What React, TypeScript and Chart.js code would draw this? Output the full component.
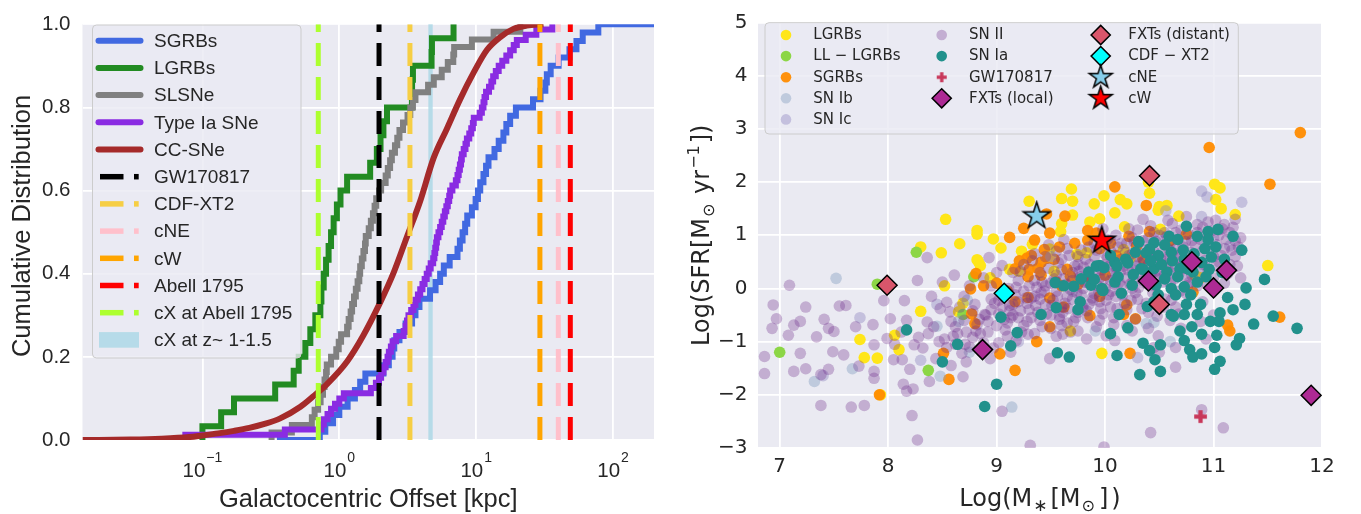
import React, { useEffect, useRef } from 'react';
import { Chart, registerables } from 'chart.js';

Chart.register(...registerables);

// ---------------- Left panel: cumulative offset distributions (kpc) ----------------
const sgrbOffsets = [0.72, 0.79, 0.9, 1.0, 1.15, 1.3, 1.42, 1.55, 2.1, 2.3, 2.45, 2.52, 2.75, 3.05, 3.4, 3.6, 3.85, 4.6, 5.05, 5.45, 5.8, 6.4, 7.3, 7.6, 7.95, 8.3, 8.6, 9.3, 9.9, 10.3, 10.7, 11.3, 11.8, 12.3, 13.6, 14.6, 15.8, 16.6, 17.7, 19.5, 26, 29.5, 32, 32.8, 35, 40, 48, 54, 60, 78];
const lgrbOffsets = [0.1, 0.137, 0.17, 0.34, 0.464, 0.505, 0.565, 0.614, 0.668, 0.727, 0.74, 0.769, 0.8, 0.835, 0.87, 0.909, 0.96, 1.02, 1.14, 1.68, 1.88, 2.0, 2.1, 2.23, 3.39, 3.4, 3.45, 4.72, 4.75, 6.83];
const slsnOffsets = [0.32, 0.45, 0.63, 0.66, 0.7, 0.73, 0.76, 0.78, 0.8, 0.81, 0.87, 0.95, 0.99, 1.03, 1.14, 1.17, 1.21, 1.24, 1.28, 1.32, 1.36, 1.4, 1.42, 1.46, 1.5, 1.54, 1.56, 1.64, 1.7, 1.76, 1.81, 1.86, 1.95, 2.02, 2.18, 2.26, 2.35, 2.42, 2.55, 2.65, 2.75, 2.92, 3.15, 3.3, 3.45, 3.6, 4.45, 4.9, 5.6, 6.2, 6.8, 6.9, 9.3, 13.4, 21.0];
const snIaOffsets = [0.075, 0.4, 0.74, 0.77, 0.82, 0.87, 0.93, 1.0, 1.08, 1.7, 1.85, 1.95, 2.02, 2.1, 2.18, 2.25, 2.3, 2.38, 2.45, 2.6, 2.95, 3.05, 3.12, 3.2, 3.35, 3.48, 3.6, 3.75, 3.9, 4.05, 4.2, 4.35, 4.5, 4.65, 4.85, 4.95, 5.02, 5.1, 5.16, 5.3, 5.45, 5.6, 5.75, 5.9, 6.05, 6.2, 6.35, 6.45, 6.7, 7.1, 7.3, 7.45, 7.6, 7.75, 7.85, 8.1, 8.35, 8.55, 8.9, 9.2, 9.45, 9.6, 10.6, 11.0, 11.3, 11.5, 11.8, 12.4, 12.9, 13.3, 13.9, 14.6, 15.5, 16.6, 17.7, 18.8, 19.8, 23.0, 27.5, 36.0];
// CC-SNe: large sample, traced as a smooth cumulative curve
const ccsnOffsets = [0.0133, 0.03, 0.05, 0.08, 0.1, 0.13, 0.17, 0.22, 0.28, 0.37, 0.52, 0.65, 0.81, 1.14, 1.5, 1.99, 2.49, 3.12, 3.9, 4.88, 6.11, 7.64, 9.55, 11.97, 15.0, 18.7, 23.4, 31.0];
const ccsnFractions = [0, 0.001, 0.003, 0.007, 0.011, 0.016, 0.022, 0.029, 0.038, 0.052, 0.08, 0.106, 0.134, 0.189, 0.252, 0.331, 0.402, 0.489, 0.575, 0.678, 0.749, 0.82, 0.883, 0.938, 0.969, 0.989, 0.997, 1.0];

const curveLabels = ['SGRBs', 'LGRBs', 'SLSNe', 'Type Ia SNe', 'CC-SNe'];
const curveColors = ['#4169E1', '#228B22', '#808080', '#8A2BE2', '#A52A2A'];
const curveStartOffsets = [0.35, 0.1, 0.32, 0.07];

const eventLabels = ['GW170817', 'CDF-XT2', 'cNE', 'cW', 'Abell 1795', 'cX at Abell 1795'];
const eventOffsets = [1.95, 3.28, 39.8, 29.2, 48.7, 0.702];
const eventColors = ['#000000', '#F6CE44', '#FFC0CB', '#FFA500', '#FF0000', '#ADFF2F'];
const bandLabel = 'cX at z~ 1-1.5';
const bandOffsets = [4.47, 4.81];
const bandColor = 'rgba(173,216,230,0.85)';

const OFFSET_MIN = 0.0133;
const OFFSET_MAX = 199;
const offsetTicks = [0.1, 1, 10, 100];
const offsetTickExponents = ['\u22121', '0', '1', '2'];
const cdfTicks = [0, 0.2, 0.4, 0.6, 0.8, 1.0];

// ---------------- Right panel: host stellar mass vs star formation rate ----------------
const lgrbHosts = [[9.30, 1.64], [9.69, 1.87], [9.60, 1.69], [9.70, 1.64], [9.90, 1.59], [9.99, 1.74], [10.14, 1.67], [10.20, 1.59], [10.09, 1.42], [9.70, 1.38], [9.60, 1.22], [9.59, 1.07], [9.95, 1.31], [9.86, 1.25], [10.18, 1.16], [8.82, 1.09], [8.66, 0.84], [8.97, 0.93], [9.04, 0.76], [9.23, 0.70], [9.33, 0.83], [9.49, 0.74], [8.83, 0.51], [8.94, 0.20], [9.12, 0.36], [9.20, 0.33], [9.74, 0.64], [9.83, 0.67], [10.17, 0.73], [10.23, 0.57], [10.41, 1.79], [10.40, 2.00], [8.53, 1.30], [8.82, 1.02], [8.30, 0.78], [8.49, 0.67], [8.82, 0.54], [8.85, 0.43], [8.52, 0.05], [10.49, 1.47], [10.57, 1.56], [10.50, 1.54], [10.68, 1.36], [11.01, 1.96], [11.06, 1.89], [11.02, 1.67], [11.07, 1.50], [11.20, 1.39], [11.50, 0.43], [10.51, 1.11], [9.53, 0.32], [9.68, -0.80], [8.69, -0.28], [8.65, -0.44], [8.30, -0.43], [7.74, -0.96], [7.78, -1.30], [7.90, -1.31], [8.06, -0.88], [8.10, -1.15], [7.93, -2.00], [9.97, -1.22], [10.88, 0.20], [10.83, 0.24]];
const llgrbHosts = [[8.26, 0.68], [7.90, 0.08], [7.00, -1.20], [8.37, -1.54], [8.79, 0.22], [8.69, -0.49]];
const sgrbHosts = [[10.96, 2.65], [11.80, 2.93], [11.52, 1.96], [10.09, 1.91], [10.38, 1.56], [9.46, 1.40], [9.63, 1.36], [9.49, 1.04], [9.25, 1.13], [9.12, 0.96], [9.35, 0.91], [9.44, 0.73], [9.32, 0.62], [9.21, 0.52], [9.41, 0.49], [9.53, 0.55], [9.84, 1.09], [9.84, 0.91], [9.92, 1.04], [10.22, 0.98], [10.41, 1.07], [10.29, 0.80], [10.75, 1.02], [8.81, 0.28], [8.88, 0.05], [8.76, -0.01], [9.17, 0.37], [9.29, 0.22], [9.41, 0.25], [9.65, 0.36], [9.68, 0.23], [9.85, 0.22], [9.29, -0.17], [9.17, -0.25], [9.49, -0.18], [9.86, -0.51], [10.28, -0.57], [10.17, -0.49], [9.49, -0.72], [9.37, -1.00], [9.03, -1.23], [9.17, -1.54], [10.23, -1.22], [8.77, -0.48], [8.80, -0.66], [8.51, -1.22], [8.56, -1.71], [7.92, -2.00], [10.81, -0.07], [11.13, -0.69], [11.15, -0.80], [11.61, -0.54], [10.20, -0.31], [9.28, 0.57], [9.47, 0.57], [9.30, 0.36], [10.05, 0.85], [10.60, 0.90], [10.00, 0.25], [9.60, 0.05], [9.58, 0.78], [9.72, 0.85], [9.95, 0.75], [10.10, 0.62], [9.38, 0.38], [9.55, 0.12], [9.75, 0.08], [10.35, 0.55], [9.00, 0.10], [9.10, -0.05], [9.62, -0.35], [9.95, -0.15]];
const snIbHosts = [[7.52, 0.19], [7.67, -1.51], [7.32, -1.75], [8.73, -0.22], [8.65, -0.62], [9.91, -0.80], [10.38, -0.66], [10.45, -0.64], [9.14, -2.23], [8.75, -1.20], [8.45, -0.71], [10.93, 0.89], [10.60, -1.00], [8.48, -1.65], [9.50, 0.60], [10.70, 0.50], [9.70, -0.05]];
const snIcHosts = [[10.89, 1.83], [10.94, 1.72], [11.26, 1.62], [10.56, 1.46], [10.89, 1.35], [8.30, -1.35], [7.40, -1.64], [8.45, -0.30], [9.20, -1.00], [10.60, 0.30], [11.00, 0.95], [9.80, -0.35], [11.15, 0.80], [7.74, -0.55], [10.30, -1.30]];
const snIIHosts = [
  [7.09, 0.06], [6.94, -0.31], [6.97, -0.57], [6.93, -0.75], [6.86, -1.28], [6.86, -1.60], [7.13, -0.69], [7.19, -0.62], [7.24, -0.35], [7.08, -0.88], [7.19, -1.22], [7.13, -1.56], [7.24, -1.51], [7.34, -0.91], [7.41, -0.58], [7.45, -0.75], [7.50, -0.81], [7.49, -1.19], [7.59, -1.25], [7.45, -1.52], [7.38, -2.20], [7.66, -2.23], [7.78, -2.20], [7.55, -0.33], [7.61, -0.32], [7.70, -0.72], [7.86, -0.68], [7.87, -1.06], [7.73, -1.46], [7.87, -1.56], [7.87, -1.69], [7.96, -0.23], [8.02, -0.57], [7.99, -0.94], [8.05, -1.34], [8.13, -1.34], [8.15, -0.23], [8.17, -0.60], [8.14, -1.80], [8.17, -1.93], [8.22, -2.39], [8.27, -2.85], [8.24, -1.06], [8.23, -1.89], [8.36, -0.63], [8.37, -0.85], [8.47, -1.00], [8.54, -0.26], [8.57, -0.44], [8.64, -0.85], [8.54, -1.11], [8.27, 0.15], [8.36, 0.58], [8.61, 0.25], [8.69, -1.66], [8.71, -1.05], [8.81, -0.80], [8.89, -0.49], [8.93, 0.58], [8.94, -1.32], [9.05, -2.31], [9.31, -2.95], [9.99, -2.98], [10.42, -2.71], [11.09, -2.62], [10.89, -2.28], [9.05, 0.43], [9.11, 0.00], [9.13, -0.55], [9.13, -1.20], [9.29, -0.86], [9.49, -1.32], [9.61, -0.86], [9.83, -0.95], [10.01, -0.89], [10.09, -0.98], [10.25, -0.80], [10.49, -0.89], [10.45, -1.11], [10.65, -1.11], [10.65, -1.48], [10.93, -0.95], [7.38, -1.62], [8.38, -1.75],
  [8.80, -0.30], [8.90, -0.50], [8.95, -0.20], [9.00, -0.70], [9.05, -0.35], [9.10, -0.90], [9.10, -0.10], [9.15, -0.50], [9.20, -0.25], [9.20, 0.15], [9.25, -0.70], [9.30, -0.40], [9.30, 0.05], [9.35, -0.15], [9.40, 0.30], [9.40, -0.60], [9.45, -0.30], [9.50, 0.10], [9.50, -0.50], [9.55, -0.05], [9.60, 0.35], [9.60, -0.35], [9.65, -0.65], [9.70, 0.15], [9.70, -0.20], [9.75, 0.45], [9.75, -0.45], [9.80, 0.00], [9.85, 0.30], [9.85, -0.30], [9.90, 0.60], [9.90, -0.10], [9.95, 0.20], [9.95, -0.60], [10.00, 0.45], [10.00, 0.00], [10.05, -0.35], [10.05, 0.70], [10.10, 0.25], [10.10, -0.15], [10.15, 0.55], [10.15, 0.05], [10.20, 0.85], [10.20, -0.40], [10.25, 0.35], [10.25, 0.00], [10.30, 0.60], [10.30, -0.20], [10.35, 0.15], [10.35, 0.90], [10.40, 0.45], [10.40, -0.45], [10.45, 0.70], [10.45, 0.05], [10.50, 1.00], [10.50, 0.30], [10.55, -0.20], [10.55, 0.55], [10.60, 0.85], [10.60, 0.10], [10.65, 0.40], [10.65, -0.35], [10.70, 1.10], [10.70, 0.65], [10.75, 0.20], [10.75, -0.10], [10.80, 0.90], [10.80, 0.45], [10.85, 1.05], [10.85, 0.05], [10.90, 0.70], [10.90, -0.25], [10.95, 0.95], [10.95, 0.35], [11.00, 0.60], [11.00, -0.50], [11.05, 1.00], [11.10, 0.75], [11.10, 0.10], [11.15, 0.45], [11.20, 0.90], [11.25, 0.20], [9.00, 0.30], [9.25, 0.45], [9.45, 0.60], [9.65, 0.75], [9.90, 0.85], [10.10, 1.00], [10.30, 1.10], [8.60, -0.90], [8.70, -0.60], [8.75, -1.10], [8.85, -0.85], [9.35, -0.85], [9.55, -0.90], [9.75, -0.80], [10.20, -0.70], [10.40, -0.75], [10.60, -0.60], [10.50, -1.20], [10.70, -0.75], [9.60, -0.70], [9.50, -0.75],
  [9.45, 0.05], [9.55, 0.25], [9.65, -0.15], [9.80, 0.40], [9.85, 0.10], [9.95, -0.25], [10.05, 0.15], [10.10, 0.40], [10.20, 0.20], [10.25, 0.65], [10.35, 0.35], [10.40, 0.20], [10.45, 0.50], [10.55, 0.25], [10.60, 0.55], [10.65, 0.75], [10.75, 0.50], [10.80, 0.25], [10.90, 0.45], [11.00, 0.20], [9.15, -0.30], [9.25, -0.05], [9.35, 0.15], [9.05, -0.15], [8.95, -0.40], [9.40, -0.20], [9.20, -0.55], [9.10, -0.65], [9.60, 0.55], [9.70, 0.30], [10.00, 0.65], [10.15, 0.85], [10.40, 0.95], [10.55, 1.05], [10.90, 1.15], [11.15, 1.05], [11.05, 0.50], [11.20, 0.60], [11.25, 0.95], [10.95, 1.25], [10.75, 1.35], [11.10, 1.20],
  [9.22, 0.32], [9.28, -0.28], [9.33, 0.52], [9.38, -0.45], [9.42, 0.12], [9.44, -0.05], [9.48, 0.38], [9.52, -0.22], [9.57, 0.48], [9.58, -0.52], [9.62, 0.18], [9.63, -0.28], [9.67, 0.62], [9.68, -0.02], [9.72, 0.42], [9.73, -0.55], [9.77, 0.22], [9.78, -0.12], [9.82, 0.55], [9.83, -0.42], [9.87, 0.18], [9.88, -0.18], [9.92, 0.72], [9.93, 0.05], [9.97, 0.35], [9.98, -0.48], [10.02, 0.58], [10.03, -0.12], [10.07, 0.28], [10.08, -0.55], [10.12, 0.78], [10.13, 0.12], [10.17, 0.42], [10.18, -0.28], [10.22, 0.62], [10.23, 0.08], [10.27, 0.88], [10.28, -0.08], [10.32, 0.48], [10.33, 0.25], [10.37, 0.72], [10.38, -0.28], [10.42, 0.58], [10.43, 0.32], [10.47, 0.88], [10.48, -0.15], [10.52, 0.68], [10.53, 0.12], [10.57, 0.98], [10.58, 0.38], [10.62, 0.68], [10.63, -0.08], [10.67, 0.92], [10.68, 0.28], [10.72, 0.78], [10.73, 0.38], [10.77, 1.02], [10.78, 0.12], [10.82, 0.62], [10.83, 0.82], [10.87, 0.32], [10.88, 0.92], [10.92, 0.52], [10.93, 0.12], [10.97, 0.78], [10.98, 1.08], [11.02, 0.42], [11.03, 0.82], [11.07, 0.62], [11.08, 1.12], [11.12, 0.92], [11.13, 0.28], [11.17, 0.72], [11.18, 1.15], [11.22, 0.42], [11.23, 0.78], [8.92, -0.62], [8.98, -0.28], [9.02, -0.48], [9.08, -0.78], [9.12, -0.32], [9.18, 0.02], [9.22, -0.42], [9.28, -0.62], [9.32, -0.18], [9.37, 0.02], [8.72, -0.82], [8.78, -0.42], [8.82, -0.68], [8.88, -1.02], [8.62, -0.72], [8.68, -1.22], [9.02, -1.02], [9.18, -0.98], [9.42, -0.72], [9.58, -0.58], [9.68, -0.82], [9.92, -0.72], [10.08, -0.68], [10.28, -0.58], [10.48, -0.52], [10.68, -0.48], [10.88, -0.62], [9.48, 0.82], [9.62, 0.92], [9.78, 0.72], [10.02, 0.92], [10.22, 1.12], [10.42, 1.18], [10.62, 1.22], [9.98, 1.12], [10.58, 1.28], [11.02, 1.28],
  [9.02, -0.22], [9.07, -0.58], [9.12, -0.42], [9.17, -0.12], [9.23, -0.82], [9.27, -0.18], [9.32, -0.55], [9.36, -0.32], [9.41, -0.08], [9.46, -0.48], [9.51, -0.32], [9.53, 0.18], [9.56, -0.15], [9.61, -0.45], [9.64, 0.08], [9.66, -0.38], [9.71, -0.62], [9.74, -0.08], [9.76, 0.32], [9.79, -0.35], [9.81, 0.12], [9.84, -0.55], [9.86, 0.45], [9.89, -0.22], [9.91, 0.32], [9.94, -0.05], [9.96, -0.38], [9.99, 0.18], [10.01, -0.22], [10.04, 0.42], [10.06, -0.05], [10.09, 0.08], [10.11, -0.38], [10.14, 0.32], [10.16, -0.12], [10.19, 0.68], [10.21, 0.35], [10.24, -0.22], [10.26, 0.15], [10.29, 0.42], [10.31, 0.02], [10.34, -0.38], [10.36, 0.52], [10.39, 0.08], [10.41, 0.68], [10.44, -0.08], [10.46, 0.32], [10.49, 0.18], [10.51, 0.55], [10.54, -0.35], [10.56, 0.42], [10.59, 0.72], [10.61, -0.22], [10.64, 0.18], [10.66, 0.55], [10.69, -0.05], [10.71, 0.42], [10.74, 0.88], [10.76, 0.05], [10.79, 0.68],
  [8.42, -0.72], [8.48, -0.38], [8.52, -0.95], [8.58, -0.62], [8.62, -1.05], [8.66, -0.35], [8.72, -1.38], [8.78, -0.92], [8.84, -0.58], [8.86, -1.18], [8.92, -0.82], [8.97, -1.12], [8.32, -1.12], [8.44, -1.32], [8.58, -1.45], [8.28, -0.92], [8.12, -0.82], [8.06, -1.05], [8.20, -1.52], [8.40, -0.15], [8.70, -0.15], [8.50, 0.12], [8.75, 0.05], [8.95, 0.05], [9.15, 0.30], [8.88, 0.20],
  [9.35, 0.65], [9.55, 0.70], [9.75, 0.60], [9.85, 0.78], [10.05, 0.90], [10.25, 0.95], [10.45, 1.05], [10.65, 1.05], [10.85, 1.20], [11.05, 1.10], [11.20, 1.30], [10.35, 1.30]
];
const snIaHosts = [[10.75, 1.17], [10.95, 1.07], [11.04, 1.11], [11.26, 0.72], [10.31, 0.87], [10.45, 0.86], [10.59, 0.98], [10.67, 0.92], [10.41, 0.74], [10.49, 0.62], [10.61, 0.68], [10.73, 0.55], [10.89, 0.49], [10.98, 0.59], [10.19, 0.55], [10.09, 0.49], [9.95, 0.43], [9.85, 0.31], [10.33, 0.37], [10.45, 0.37], [10.57, 0.31], [10.69, 0.37], [10.81, 0.31], [10.96, 0.36], [11.08, 0.30], [11.47, 0.17], [9.54, 0.11], [9.71, 0.04], [9.87, 0.06], [9.97, 0.00], [10.09, 0.12], [10.25, 0.06], [10.47, 0.06], [10.61, 0.00], [10.73, 0.03], [10.85, 0.12], [10.49, -0.12], [10.65, -0.12], [10.79, -0.12], [11.30, 0.01], [11.13, -0.17], [11.29, -0.30], [10.88, -0.30], [10.39, -0.34], [9.41, -0.49], [9.55, -0.36], [9.77, -0.25], [9.75, -0.40], [10.13, -0.49], [9.04, -0.54], [9.19, -0.83], [8.64, -1.05], [8.50, -1.38], [8.17, -0.78], [9.13, -1.08], [10.05, -0.85], [10.21, -0.74], [10.61, -0.49], [10.73, -0.49], [10.85, -0.49], [11.06, -0.46], [11.05, -0.62], [10.63, -0.52], [10.80, -0.72], [10.89, -0.86], [11.03, -0.88], [11.24, -0.94], [11.21, -1.06], [11.37, -0.67], [11.55, -0.52], [11.77, -0.75], [10.35, -1.03], [10.41, -1.17], [10.51, -1.06], [10.46, -1.34], [10.51, -1.56], [10.32, -1.62], [10.11, -1.26], [10.73, -0.98], [10.78, -1.15], [10.81, -1.29], [10.89, -1.23], [11.01, -1.11], [11.06, -1.37], [11.01, -1.52], [9.56, -1.21], [9.67, -1.29], [9.00, -1.80], [8.89, -2.22], [9.92, 0.42], [9.99, 0.39], [10.11, 0.42], [10.21, 0.48], [10.26, 0.26], [10.35, 0.36], [9.90, 0.17], [9.98, -0.04], [10.15, -0.09], [10.38, 0.67], [10.31, 0.88], [10.69, -0.80], [10.97, -0.62], [10.42, 0.52], [10.52, 0.45], [10.62, 0.52], [10.72, 0.72], [10.82, 0.65], [10.92, 0.75], [11.02, 0.78], [10.38, 0.16], [10.55, 0.18], [10.67, 0.22], [10.77, 0.36], [10.93, 0.22], [11.10, 0.55], [11.18, 0.98], [10.55, 0.82], [10.85, 0.98], [10.95, 0.92], [10.28, 0.68], [10.12, 0.22], [10.05, 0.62], [9.78, 0.18], [9.62, 0.05], [10.45, -0.25], [10.75, -0.30], [11.18, -0.40]];
const gwHost = [[10.88, -2.41]];
const fxtLocalHosts = [[8.87, -1.15], [10.40, 0.14], [10.80, 0.50], [11.00, 0.01], [11.12, 0.34], [11.90, -2.01]];
const fxtDistantHosts = [[7.99, 0.06], [10.41, 2.12], [10.50, -0.30]];
const cdfxt2Host = [[9.07, -0.09]];
const cneHost = [[9.37, 1.36]];
const cwHost = [[9.97, 0.90]];

const massTicks = [7, 8, 9, 10, 11, 12];
const sfrTicks = [-3, -2, -1, 0, 1, 2, 3, 4, 5];

const hostSeries = [
  { label: 'LGRBs', points: lgrbHosts, color: '#FFE619', marker: 'circle' },
  { label: 'LL \u2212 LGRBs', points: llgrbHosts, color: '#8CD646', marker: 'circle' },
  { label: 'SGRBs', points: sgrbHosts, color: 'rgba(255,140,0,0.95)', marker: 'circle' },
  { label: 'SN Ib', points: snIbHosts, color: 'rgba(140,165,195,0.45)', marker: 'circle' },
  { label: 'SN Ic', points: snIcHosts, color: 'rgba(140,130,190,0.4)', marker: 'circle' },
  { label: 'SN II', points: snIIHosts, color: 'rgba(112,48,140,0.32)', marker: 'circle' },
  { label: 'SN Ia', points: snIaHosts, color: '#21918C', marker: 'circle' },
  { label: 'GW170817', points: gwHost, color: '#C8375A', marker: 'plus' },
  { label: 'FXTs (local)', points: fxtLocalHosts, color: '#AD2A94', marker: 'diamond' },
  { label: 'FXTs (distant)', points: fxtDistantHosts, color: '#D9566B', marker: 'diamond' },
  { label: 'CDF \u2212 XT2', points: cdfxt2Host, color: '#00FFFF', marker: 'diamond' },
  { label: 'cNE', points: cneHost, color: '#87CEEB', marker: 'star' },
  { label: 'cW', points: cwHost, color: '#FF0000', marker: 'star' },
];

// ---------------- drawing helpers ----------------
const FONT_L = 'Liberation Sans';
const FONT_R = 'DejaVu Sans';
const TEXT = '#262626';
const PANEL_BG = '#EAEAF2';

function roundRectPath(ctx, x, y, w, h, r) {
  ctx.beginPath();
  ctx.moveTo(x + r, y);
  ctx.lineTo(x + w - r, y);
  ctx.arcTo(x + w, y, x + w, y + r, r);
  ctx.lineTo(x + w, y + h - r);
  ctx.arcTo(x + w, y + h, x + w - r, y + h, r);
  ctx.lineTo(x + r, y + h);
  ctx.arcTo(x, y + h, x, y + h - r, r);
  ctx.lineTo(x, y + r);
  ctx.arcTo(x, y, x + r, y, r);
  ctx.closePath();
}

// text made of pieces (sub/superscripts), centred on `center`, sitting on `baseline`
function drawRich(ctx, segs, family, center, baseline, vertical) {
  ctx.save();
  ctx.fillStyle = TEXT;
  ctx.textAlign = 'left';
  ctx.textBaseline = 'alphabetic';
  const fontOf = (s) => `${s.size}px "${family}"`;
  const widths = segs.map((s) => { ctx.font = fontOf(s); return ctx.measureText(s.t).width; });
  const total = widths.reduce((a, w, i) => a + w + (segs[i].gap || 0), 0);
  if (vertical) { ctx.translate(baseline, center); ctx.rotate(-Math.PI / 2); }
  else ctx.translate(center, baseline);
  let x = -total / 2;
  segs.forEach((s, i) => {
    ctx.font = fontOf(s);
    ctx.fillText(s.t, x, s.dy || 0);
    x += widths[i] + (s.gap || 0);
  });
  ctx.restore();
}

function starImage(outer, fill) {
  const lw = 1.5;
  const size = Math.ceil(2 * outer + 2 * lw + 2);
  const c = document.createElement('canvas');
  c.width = size; c.height = size;
  const g = c.getContext('2d');
  const inner = outer * 0.381966;
  g.beginPath();
  for (let k = 0; k < 10; k++) {
    const r = k % 2 === 0 ? outer : inner;
    const a = -Math.PI / 2 + (k * Math.PI) / 5;
    const px = size / 2 + r * Math.cos(a);
    const py = size / 2 + r * Math.sin(a);
    if (k === 0) g.moveTo(px, py); else g.lineTo(px, py);
  }
  g.closePath();
  g.fillStyle = fill; g.fill();
  g.lineWidth = lw; g.strokeStyle = '#000'; g.lineJoin = 'miter'; g.stroke();
  return c;
}

function plusImage(span, fill) {
  const size = Math.ceil(span) + 2;
  const c = document.createElement('canvas');
  c.width = size; c.height = size;
  const g = c.getContext('2d');
  const t = span / 3;
  const m = size / 2;
  g.fillStyle = fill;
  g.fillRect(m - span / 2, m - t / 2, span, t);
  g.fillRect(m - t / 2, m - span / 2, t, span);
  return c;
}

function diamondPath(ctx, x, y, r) {
  ctx.beginPath();
  ctx.moveTo(x - r, y); ctx.lineTo(x, y - r); ctx.lineTo(x + r, y); ctx.lineTo(x, y + r);
  ctx.closePath();
}

// ---------------- left chart ----------------
function ecdfPoints(values, start) {
  const n = values.length;
  const pts = [{ x: start, y: 0 }];
  values.forEach((v, i) => pts.push({ x: v, y: (i + 1) / n }));
  return pts;
}

const leftDecor = {
  id: 'leftDecor',
  beforeDraw(chart) {
    const { ctx, chartArea: a } = chart;
    ctx.save();
    ctx.fillStyle = PANEL_BG;
    ctx.fillRect(a.left, a.top, a.right - a.left, a.bottom - a.top);
    ctx.restore();
  },
  beforeDatasetsDraw(chart) {
    const { ctx, chartArea: a } = chart;
    const xs = chart.scales.x;
    const x1 = xs.getPixelForValue(bandOffsets[0]);
    const x2 = xs.getPixelForValue(bandOffsets[1]);
    ctx.save();
    ctx.fillStyle = bandColor;
    ctx.fillRect(x1, a.top, x2 - x1, a.bottom - a.top);
    ctx.restore();
  },
  afterDraw(chart) {
    const { ctx, chartArea: a } = chart;
    const xs = chart.scales.x;
    ctx.save();
    ctx.fillStyle = TEXT;
    ctx.textBaseline = 'alphabetic';
    ctx.textAlign = 'left';
    offsetTicks.forEach((v, i) => {
      const px = xs.getPixelForValue(v);
      const big = `20.5px "${FONT_L}"`;
      const small = `14px "${FONT_L}"`;
      ctx.font = big; const w1 = ctx.measureText('10').width;
      ctx.font = small; const w2 = ctx.measureText(offsetTickExponents[i]).width;
      const x0 = px - (w1 + w2 + 1) / 2;
      ctx.font = big; ctx.fillText('10', x0, 477);
      ctx.font = small; ctx.fillText(offsetTickExponents[i], x0 + w1 + 1, 462);
    });
    ctx.restore();

    drawRich(ctx, [{ t: 'Galactocentric Offset [kpc]', size: 25.5 }], FONT_L, (a.left + a.right) / 2, 507, false);
    drawRich(ctx, [{ t: 'Cumulative Distribution', size: 25.5 }], FONT_L, 226, 29.5, true);

    // legend
    ctx.save();
    roundRectPath(ctx, 92.5, 25, 208.5, 333, 4);
    ctx.fillStyle = 'rgba(234,234,242,0.8)';
    ctx.fill();
    ctx.lineWidth = 1;
    ctx.strokeStyle = '#CCCCCC';
    ctx.stroke();
    const rowY = (i) => 40.7 + i * 27.2;
    ctx.font = `19px "${FONT_L}"`;
    ctx.textBaseline = 'middle';
    ctx.textAlign = 'left';
    curveLabels.forEach((lab, i) => {
      const y = rowY(i);
      ctx.beginPath();
      ctx.moveTo(98.5, y); ctx.lineTo(140.5, y);
      ctx.lineWidth = 6; ctx.lineCap = 'round'; ctx.strokeStyle = curveColors[i];
      ctx.stroke();
      ctx.fillStyle = TEXT;
      ctx.fillText(lab, 154, y + 1);
    });
    eventLabels.forEach((lab, j) => {
      const y = rowY(5 + j);
      ctx.lineCap = 'butt'; ctx.lineWidth = 5.5; ctx.strokeStyle = eventColors[j];
      ctx.beginPath(); ctx.moveTo(100, y); ctx.lineTo(123.5, y); ctx.stroke();
      ctx.beginPath(); ctx.moveTo(134, y); ctx.lineTo(138.7, y); ctx.stroke();
      ctx.fillStyle = TEXT;
      ctx.fillText(lab, 154, y + 1);
    });
    const yb = rowY(11);
    ctx.fillStyle = bandColor;
    ctx.fillRect(99, yb - 7.8, 40, 15.6);
    ctx.fillStyle = TEXT;
    ctx.fillText(bandLabel, 154, yb + 1);
    ctx.restore();
  },
};

function leftConfig() {
  const curveData = [
    [...ecdfPoints(sgrbOffsets, curveStartOffsets[0]), { x: OFFSET_MAX, y: 1 }],
    ecdfPoints(lgrbOffsets, curveStartOffsets[1]),
    ecdfPoints(slsnOffsets, curveStartOffsets[2]),
    ecdfPoints(snIaOffsets, curveStartOffsets[3]),
  ];
  const datasets = [];
  curveData.forEach((data, i) => {
    datasets.push({
      label: curveLabels[i], data, borderColor: curveColors[i], borderWidth: 6,
      pointRadius: 0, stepped: true, fill: false, order: 40 - i,
    });
  });
  datasets.push({
    label: curveLabels[4],
    data: ccsnOffsets.map((x, i) => ({ x, y: ccsnFractions[i] })),
    borderColor: curveColors[4], borderWidth: 6, pointRadius: 0, fill: false,
    cubicInterpolationMode: 'monotone', order: 30,
  });
  eventOffsets.forEach((x, j) => {
    datasets.push({
      label: eventLabels[j], data: [{ x, y: 0 }, { x, y: 1 }], borderColor: eventColors[j],
      borderWidth: 5, borderDash: [23, 11], borderCapStyle: 'butt', pointRadius: 0, fill: false, order: 10 - j,
    });
  });
  const grid = { color: '#FFFFFF', lineWidth: 1.8, drawTicks: false };
  return {
    type: 'line',
    data: { datasets },
    options: {
      responsive: false, animation: false, devicePixelRatio: 1, events: [],
      layout: { padding: { top: 17, right: 26, left: 0, bottom: 0 } },
      plugins: { legend: { display: false }, tooltip: { enabled: false } },
      scales: {
        x: {
          type: 'logarithmic', min: OFFSET_MIN, max: OFFSET_MAX,
          afterBuildTicks: (s) => { s.ticks = offsetTicks.map((value) => ({ value })); },
          afterFit: (s) => { s.height = 74; },
          ticks: { display: false }, grid, border: { display: false },
        },
        y: {
          type: 'linear', min: 0, max: 1,
          afterBuildTicks: (s) => { s.ticks = cdfTicks.map((value) => ({ value })); },
          afterFit: (s) => { s.width = 82.5; },
          ticks: { font: { family: FONT_L, size: 20.5 }, color: TEXT, padding: 12, callback: (v) => Number(v).toFixed(1) },
          grid, border: { display: false },
        },
      },
    },
    plugins: [leftDecor],
  };
}

// ---------------- right chart ----------------
function rightConfig() {
  const plotStar = {};
  const legendStar = {};
  hostSeries.forEach((s) => {
    if (s.marker === 'star') {
      plotStar[s.label] = starImage(14, s.color);
      legendStar[s.label] = starImage(12, s.color);
    }
  });
  const plotPlus = plusImage(12.7, '#C8375A');
  const legendPlus = plusImage(10, '#C8375A');

  const datasets = hostSeries.map((s, i) => {
    let pointStyle = 'circle';
    let radius = 5.8;
    if (s.marker === 'diamond') { pointStyle = 'rectRot'; radius = 10; }
    if (s.marker === 'star') { pointStyle = plotStar[s.label]; radius = 14; }
    if (s.marker === 'plus') { pointStyle = plotPlus; radius = 6; }
    return {
      label: s.label,
      data: s.points.map(([x, y]) => ({ x, y })),
      order: hostSeries.length - i,
      pointStyle, pointRadius: radius, pointHoverRadius: radius,
      backgroundColor: s.color,
      borderColor: s.marker === 'diamond' ? '#000000' : s.color,
      borderWidth: s.marker === 'diamond' ? 1.5 : 0,
    };
  });

  const rightDecor = {
    id: 'rightDecor',
    beforeDraw(chart) {
      const { ctx, chartArea: a } = chart;
      ctx.save();
      ctx.fillStyle = PANEL_BG;
      ctx.fillRect(a.left, a.top, a.right - a.left, a.bottom - a.top);
      ctx.restore();
    },
    afterDraw(chart) {
      const { ctx, chartArea: a } = chart;
      drawRich(ctx, [
        { t: 'Log(', size: 24 }, { t: 'M', size: 24, gap: 1 }, { t: '\u2217', size: 17, dy: 5, gap: 3 },
        { t: '[M', size: 24, gap: 1 }, { t: '\u2299', size: 16, dy: 5, gap: 4 }, { t: ']', size: 24, gap: 3 }, { t: ')', size: 24 },
      ], FONT_R, (a.left + a.right) / 2, 505.5, false);
      drawRich(ctx, [
        { t: 'Log(SFR[M', size: 24, gap: 1 }, { t: '\u2299', size: 16, dy: 5, gap: 2 }, { t: ' yr', size: 24, gap: 1 },
        { t: '\u22121', size: 16, dy: -10, gap: 2 }, { t: '])', size: 24 },
      ], FONT_R, (a.top + a.bottom) / 2, 29, true);

      // legend
      ctx.save();
      roundRectPath(ctx, 85, 22.7, 473.3, 111.3, 4);
      ctx.fillStyle = 'rgba(234,234,242,0.8)';
      ctx.fill();
      ctx.lineWidth = 1; ctx.strokeStyle = '#CCCCCC'; ctx.stroke();
      const markerX = [106, 261.7, 420.7];
      const textX = [133.3, 289, 448.3];
      ctx.font = `15px "${FONT_R}"`;
      ctx.textBaseline = 'middle';
      ctx.textAlign = 'left';
      hostSeries.forEach((s, k) => {
        const col = k < 5 ? 0 : k < 9 ? 1 : 2;
        const row = k < 5 ? k : k < 9 ? k - 5 : k - 9;
        const y = 35 + row * 21.1;
        const mx = markerX[col];
        if (s.marker === 'circle') {
          ctx.beginPath(); ctx.arc(mx, y, 5.3, 0, Math.PI * 2); ctx.fillStyle = s.color; ctx.fill();
        } else if (s.marker === 'diamond') {
          diamondPath(ctx, mx, y, 9.6); ctx.fillStyle = s.color; ctx.fill();
          ctx.lineWidth = 1.5; ctx.strokeStyle = '#000'; ctx.stroke();
        } else if (s.marker === 'star') {
          const img = legendStar[s.label];
          ctx.drawImage(img, mx - img.width / 2, y - img.height / 2);
        } else {
          ctx.drawImage(legendPlus, mx - legendPlus.width / 2, y - legendPlus.height / 2);
        }
        ctx.fillStyle = TEXT;
        ctx.fillText(s.label, textX[col], y + 0.5);
      });
      ctx.restore();
    },
  };

  const grid = { color: '#FFFFFF', lineWidth: 1.8, drawTicks: false };
  return {
    type: 'scatter',
    data: { datasets },
    options: {
      responsive: false, animation: false, devicePixelRatio: 1, events: [],
      layout: { padding: { top: 16, right: 39, left: 0, bottom: 0 } },
      plugins: { legend: { display: false }, tooltip: { enabled: false } },
      scales: {
        x: {
          type: 'linear', min: 6.8, max: 12,
          afterBuildTicks: (s) => { s.ticks = massTicks.map((value) => ({ value })); },
          afterFit: (s) => { s.height = 66; },
          ticks: { font: { family: FONT_R, size: 20 }, color: TEXT, padding: 6.5 },
          grid, border: { display: false },
        },
        y: {
          type: 'linear', min: -3, max: 5,
          afterBuildTicks: (s) => { s.ticks = sfrTicks.map((value) => ({ value })); },
          afterFit: (s) => { s.width = 78; },
          ticks: {
            font: { family: FONT_R, size: 20 }, color: TEXT, padding: 10.5,
            callback: (v) => (v < 0 ? '\u2212' + Math.abs(v) : String(v)),
          },
          grid, border: { display: false },
        },
      },
    },
    plugins: [rightDecor],
  };
}

export default function App() {
  const leftRef = useRef(null);
  const rightRef = useRef(null);
  useEffect(() => {
    const left = new Chart(leftRef.current, leftConfig());
    const right = new Chart(rightRef.current, rightConfig());
    return () => { left.destroy(); right.destroy(); };
  }, []);
  return (
    <div style={{ position: 'fixed', left: 0, top: 0, width: 1361, height: 514, background: '#FFFFFF' }}>
      <canvas ref={leftRef} width={680} height={514} style={{ position: 'absolute', left: 0, top: 0, width: 680, height: 514 }} />
      <canvas ref={rightRef} width={681} height={514} style={{ position: 'absolute', left: 680, top: 0, width: 681, height: 514 }} />
    </div>
  );
}
